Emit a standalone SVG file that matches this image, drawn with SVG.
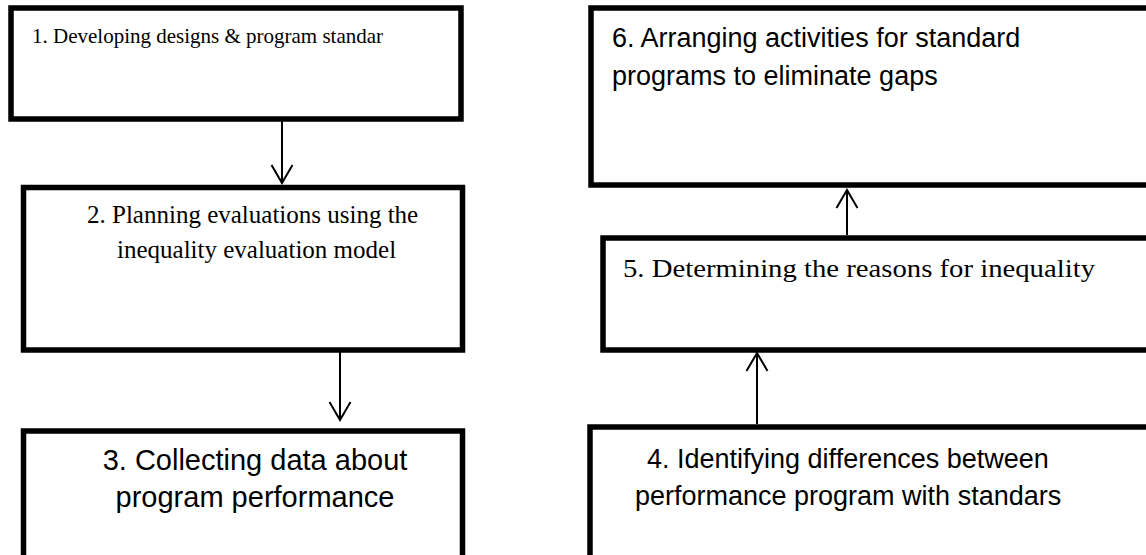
<svg xmlns="http://www.w3.org/2000/svg" width="1146" height="555" viewBox="0 0 1146 555">
  <style>
    .box { fill: #ffffff; stroke: #000000; stroke-width: 5.5; }
    .serif { font-family: "Liberation Serif", "DejaVu Serif", serif; font-size: 21px; fill: #000000; }
    .serif-l { font-family: "Liberation Serif", "DejaVu Serif", serif; font-size: 25px; fill: #000000; }
    .sans { font-family: "Liberation Sans", Arial, sans-serif; font-size: 27px; fill: #000000; }
    .sans-l { font-family: "Liberation Sans", Arial, sans-serif; font-size: 29px; fill: #000000; text-anchor: middle; }
    .conn { stroke: #000000; stroke-width: 2; fill: none; }
  </style>
  <defs>
    <marker id="arrow" markerUnits="userSpaceOnUse" markerWidth="30" markerHeight="30" viewBox="-20 -15 30 30" refX="0" refY="0" orient="auto" overflow="visible">
      <path d="M -18 -10.5 L 0 0 L -18 10.5" fill="none" stroke="#000000" stroke-width="2"/>
    </marker>
  </defs>
  <rect x="0" y="0" width="1146" height="555" fill="#ffffff"/>

  <g id="node1">
    <rect class="box" x="11" y="8" width="450" height="111"/>
    <text class="serif" x="32" y="43">1. Developing designs &amp; program standar</text>
  </g>
  <g id="node2">
    <rect class="box" x="23.5" y="187.5" width="439" height="162.5"/>
    <text class="serif-l" x="87" y="223">2. Planning evaluations using the</text>
    <text class="serif-l" x="117" y="258">inequality evaluation model</text>
  </g>
  <g id="node3">
    <rect class="box" x="23.5" y="431" width="439" height="200"/>
    <text class="sans-l" x="255" y="470">3. Collecting data about</text>
    <text class="sans-l" x="255" y="507">program performance</text>
  </g>
  <g id="node4">
    <rect class="box" x="590" y="427" width="600" height="200"/>
    <text class="sans" x="647" y="468">4. Identifying differences between</text>
    <text class="sans" x="635" y="505">performance program with standars</text>
  </g>
  <g id="node5">
    <rect class="box" x="603" y="238" width="600" height="112"/>
    <text class="serif-l" x="623" y="277" textLength="472" lengthAdjust="spacingAndGlyphs">5. Determining the reasons for inequality</text>
  </g>
  <g id="node6">
    <rect class="box" x="591" y="8" width="600" height="177"/>
    <text class="sans" x="612" y="47">6. Arranging activities for standard</text>
    <text class="sans" x="612" y="85">programs to eliminate gaps</text>
  </g>

  <g id="connectors">
    <line class="conn" x1="282" y1="121" x2="282" y2="183" marker-end="url(#arrow)"/>
    <line class="conn" x1="340" y1="352" x2="340" y2="420" marker-end="url(#arrow)"/>
    <line class="conn" x1="757" y1="424" x2="757" y2="353" marker-end="url(#arrow)"/>
    <line class="conn" x1="847" y1="235" x2="847" y2="190" marker-end="url(#arrow)"/>
  </g>
</svg>
